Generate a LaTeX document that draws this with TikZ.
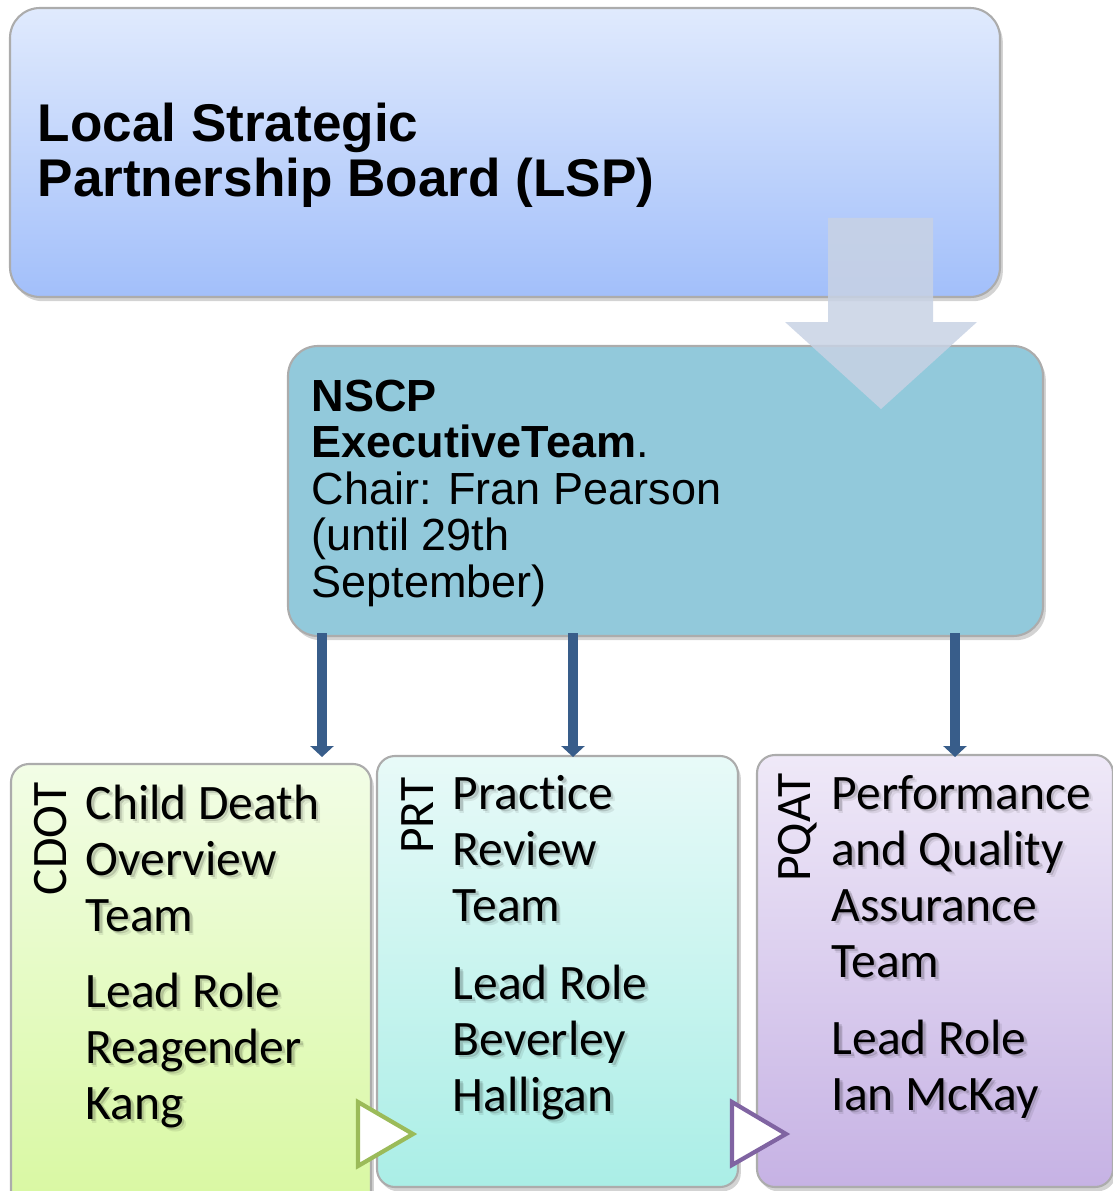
\documentclass[tikz,border=0pt]{standalone}
\usepackage{fontspec}
\setmainfont{Carlito}[Ligatures={NoCommon}]
\newfontfamily\arialfont{Liberation Sans}
\usetikzlibrary{arrows.meta, fit, shadows}

\definecolor{lsptop}{RGB}{224,234,253}
\definecolor{lspbot}{RGB}{162,191,250}
\definecolor{nscpfill}{RGB}{146,201,219}
\definecolor{bigarrow}{RGB}{200,210,228}
\definecolor{linkblue}{RGB}{56,93,138}
\definecolor{cdottop}{RGB}{242,253,230}
\definecolor{cdotbot}{RGB}{216,248,160}
\definecolor{prttop}{RGB}{232,250,248}
\definecolor{prtbot}{RGB}{170,238,230}
\definecolor{pqattop}{RGB}{239,233,248}
\definecolor{pqatbot}{RGB}{198,178,228}
\definecolor{chevgreen}{RGB}{155,187,89}
\definecolor{chevpurple}{RGB}{128,100,162}

\tikzset{
  panel/.style={draw=gray!65, line width=0.6pt, inner sep=0pt,
    drop shadow={shadow xshift=0.8pt, shadow yshift=-1.2pt, opacity=.35}},
  teamtext/.style={inner sep=0pt, anchor=base west, align=left,
    font=\fontsize{14.1pt}{15.9pt}\selectfont},
  tag/.style={inner sep=0pt, rotate=90, anchor=base east,
    font=\fontsize{14.1pt}{15.9pt}\selectfont},
  linkarrow/.style={draw=linkblue, line width=0.1cm,
    -{Triangle[width=0.23cm, length=0.11cm]}},
  chevron/.style={fill=white, line width=1.2pt, line join=miter}
}

\begin{document}
\begin{tikzpicture}[x=0.01cm, y=-0.01cm]
  \useasboundingbox (0,0) rectangle (1113,1191);

  \node[panel, rounded corners=0.3cm, top color=lsptop, bottom color=lspbot,
    fit={(10,8) (1000,297)}] (lsp) {};
  \node[inner sep=0pt, anchor=base west, align=left,
    font=\arialfont\bfseries\fontsize{15.1pt}{15.65pt}\selectfont] (lsptxt) at (37,197)
    {Local Strategic\\Partnership Board (LSP)};

  \node[panel, rounded corners=0.3cm, fill=nscpfill,
    fit={(288,346) (1043,636)}] (nscp) {};
  \node[inner sep=0pt, anchor=base west, align=left,
    font=\arialfont\fontsize{12.8pt}{13.2pt}\selectfont] (nscptxt) at (311,597)
    {\textbf{NSCP}\\\textbf{ExecutiveTeam}.\\Chair: Fran Pearson\\(until 29th\\September)};

  \fill[bigarrow, opacity=.85] (828,218) -- (933,218) -- (933,322) -- (977,322)
    -- (881,409) -- (785,322) -- (828,322) -- cycle;

  \node[panel, rounded corners=0.18cm, top color=cdottop, bottom color=cdotbot,
    fit={(11,764) (371,1215)}] (cdot) {};
  \node[panel, rounded corners=0.18cm, top color=prttop, bottom color=prtbot,
    fit={(377,756) (738,1187)}] (prt) {};
  \node[panel, rounded corners=0.18cm, top color=pqattop, bottom color=pqatbot,
    fit={(757,755) (1113,1187)}] (pqat) {};

  \foreach \x in {322, 573, 955}
    \draw[linkarrow] ([yshift=0.04cm]nscp.south -| \x,0) -- (\x,757);

  \node[tag] (cdottag) at (67,782) {CDOT};
  \node[tag] (prttag) at (433,777) {PRT};
  \node[tag] (pqattag) at (810,773) {PQAT};

  \foreach \d/\o in {4/0.08, 2.5/0.15, 0/1}{
    \node[teamtext, opacity=\o] (cdottxt) at (85+\d,1119+\d)
      {Child Death\\Overview\\Team\\[0.2cm]Lead Role\\Reagender\\Kang};
    \node[teamtext, opacity=\o] (prttxt) at (452+\d,1111+\d)
      {Practice\\Review\\Team\\[0.22cm]Lead Role\\Beverley\\Halligan};
    \node[teamtext, opacity=\o] (pqattxt) at (831+\d,1110+\d)
      {Performance\\and Quality\\Assurance\\Team\\[0.21cm]Lead Role\\Ian McKay};
  }

  \draw[chevron, draw=chevgreen] (358,1102) -- (413,1134) -- (358,1166) -- cycle;
  \draw[chevron, draw=chevpurple] (732,1102) -- (786,1134) -- (732,1165) -- cycle;
\end{tikzpicture}
\end{document}
